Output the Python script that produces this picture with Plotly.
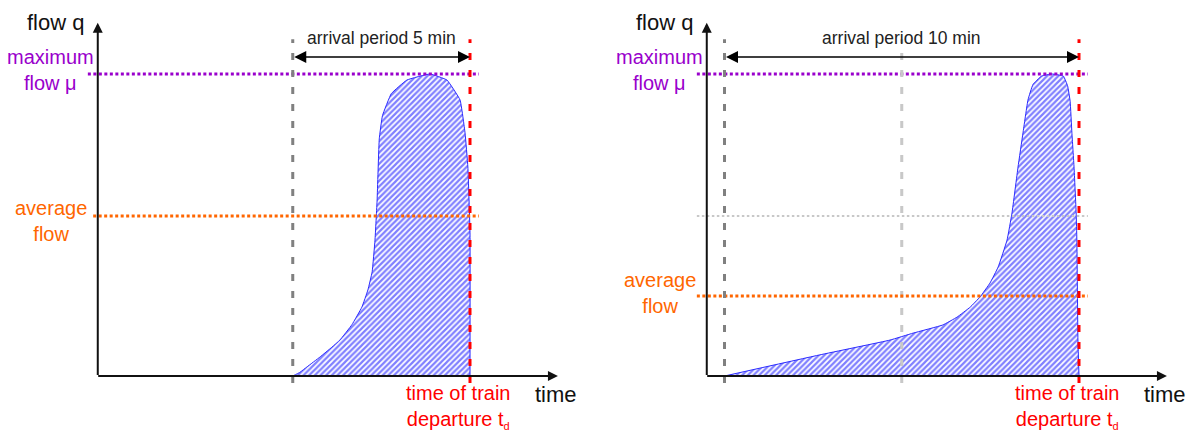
import plotly.graph_objects as go

# arrival profiles, time in minutes relative to departure, flow relative to max flow mu
left_t = [-5.0, -4.80, -4.60, -4.23, -3.90, -3.67, -3.33, -3.05, -2.88, -2.76, -2.68, -2.62, -2.56,
          -2.47, -2.22, -1.78, -1.13, -0.65, -0.28, -0.14, -0.06, 0.0, 0.0]
left_q = [0.0, 0.012, 0.030, 0.063, 0.095, 0.119, 0.170, 0.228, 0.285, 0.345, 0.450, 0.583, 0.785,
          0.862, 0.935, 0.980, 1.0, 0.980, 0.914, 0.805, 0.692, 0.474, 0.0]

right_t = [-10.0, -7.31, -5.33, -4.68, -3.84, -3.44, -3.07, -2.79, -2.51, -2.28, -2.03, -1.89,
           -1.72, -1.58, -1.44, -1.30, -1.06, -0.76, -0.44, -0.32, -0.25, -0.20, -0.14, -0.08,
           -0.06, -0.03, 0.0]
right_q = [0.0, 0.070, 0.119, 0.142, 0.169, 0.195, 0.228, 0.262, 0.308, 0.361, 0.450, 0.540,
           0.692, 0.805, 0.914, 0.965, 0.993, 1.0, 0.993, 0.960, 0.910, 0.805, 0.692, 0.540,
           0.450, 0.119, 0.0]

max_flow = 1.0
avg_flow = [0.53, 0.265]
arrival_period = [5, 10]
panel_titles = ["arrival period 5 min", "arrival period 10 min"]

PURPLE = "#9900CC"
ORANGE = "#FF6600"
RED = "#FF0000"
GRAY = "#808080"
LIGHT = "#C8C8C8"
FONT = "Liberation Sans, Arial, sans-serif"

# pixel layout -> axis ranges (35.45 px per minute, 302 px per unit flow)
PX_MIN = 35.45
PX_Q = 302.0
BASE_Y = 376
W, H = 1194, 432
red_px = [470, 1079]
AX_T = -10.5      # position of the vertical axis
AX_TIP_T = 2.48   # tip of the time axis
AX_TIP_Q = 1.17   # tip of the flow axis

fig = go.Figure()

layout_axes = {}
for i in range(2):
    x0 = i * W / 2
    x1 = (i + 1) * W / 2
    layout_axes["xaxis" if i == 0 else "xaxis2"] = dict(
        domain=[i * 0.5, (i + 1) * 0.5], range=[(x0 - red_px[i]) / PX_MIN, (x1 - red_px[i]) / PX_MIN],
        visible=False, fixedrange=True)
    layout_axes["yaxis" if i == 0 else "yaxis2"] = dict(
        domain=[0, 1], range=[(BASE_Y - H) / PX_Q, BASE_Y / PX_Q], visible=False, fixedrange=True,
        anchor="x" if i == 0 else "x2")

curves = [(left_t, left_q), (right_t, right_q)]
for i, (tt, qq) in enumerate(curves):
    xr = "x" if i == 0 else "x2"
    yr = "y" if i == 0 else "y2"
    period = arrival_period[i]

    # hatched arrival curve
    fig.add_trace(go.Scatter(
        x=tt, y=qq, xaxis=xr, yaxis=yr, mode="lines", fill="toself",
        line=dict(color="#2a2aff", width=1, shape="spline", smoothing=0.3),
        fillcolor="rgba(0,0,0,0)",
        fillpattern=dict(shape="/", fgcolor="#0000ff", bgcolor="white", size=4, solidity=0.55),
        showlegend=False, hoverinfo="skip"))

    def hline(y, color, width, dash, t0=-10.78, t1=0.25):
        fig.add_shape(type="line", xref=xr, yref=yr, x0=t0, x1=t1, y0=y, y1=y,
                      line=dict(color=color, width=width, dash=dash))

    def vline(t, color):
        fig.add_shape(type="line", xref=xr, yref=yr, x0=t, x1=t, y0=-0.023, y1=1.115,
                      line=dict(color=color, width=3, dash="7px,10px"))

    # reference lines
    hline(max_flow, PURPLE, 3, "3px,2.5px")
    if i == 1:
        hline(avg_flow[0], LIGHT, 2, "2.5px,2.5px")
        vline(-period / 2, LIGHT)
    hline(avg_flow[i], ORANGE, 3, "3px,2.5px", t0=-10.63 if i == 0 else -10.78)
    vline(-period, GRAY)
    vline(0, RED)

    # axes with arrows
    fig.add_annotation(xref=xr, yref=yr, axref=xr, ayref=yr, x=AX_T, y=AX_TIP_Q, ax=AX_T, ay=-0.002,
                       text="", showarrow=True, arrowhead=2, arrowsize=1, arrowwidth=2, arrowcolor="#111")
    fig.add_annotation(xref=xr, yref=yr, axref=xr, ayref=yr, x=AX_TIP_T, y=0, ax=AX_T - 0.03, ay=0,
                       text="", showarrow=True, arrowhead=2, arrowsize=1, arrowwidth=2, arrowcolor="#111")

    # arrival period double arrow
    fig.add_annotation(xref=xr, yref=yr, axref=xr, ayref=yr, x=0, y=1.056, ax=-period, ay=1.056,
                       text="", showarrow=True, arrowhead=2, startarrowhead=2, arrowside="end+start",
                       arrowsize=1.6, startarrowsize=1.6, arrowwidth=1.5, arrowcolor="#000")
    fig.add_annotation(xref=xr, yref=yr, x=-period / 2, y=1.119, text=panel_titles[i], showarrow=False,
                       font=dict(size=17.5, color="#222", family=FONT))

    # labels
    fig.add_annotation(xref=xr, yref=yr, x=AX_T, y=AX_TIP_Q, xshift=-12, xanchor="right",
                       text="flow q", showarrow=False, font=dict(size=22, color="#111", family=FONT))
    fig.add_annotation(xref=xr, yref=yr, x=2.43, y=-0.06, text="time", showarrow=False,
                       font=dict(size=22, color="#111", family=FONT))
    fig.add_annotation(xref=xr, yref=yr, x=-11.82, y=1.012, text="maximum<br>flow \u03bc",
                       showarrow=False, font=dict(size=20, color=PURPLE, family=FONT))
    fig.add_annotation(xref=xr, yref=yr, x=-11.82, y=0.513 if i == 0 else 0.276, text="average<br>flow",
                       showarrow=False, font=dict(size=20, color=ORANGE, family=FONT))
    fig.add_annotation(xref=xr, yref=yr, x=-0.33, y=-0.103,
                       text="time of train<br>departure t<sub><span style='font-size:11px'>d</span></sub>",
                       showarrow=False, font=dict(size=20, color=RED, family=FONT))

fig.update_layout(
    width=W, height=H,
    margin=dict(l=0, r=0, t=0, b=0),
    paper_bgcolor="white", plot_bgcolor="white",
    showlegend=False,
    **layout_axes
)

# the page body has a default 8px margin; drop it so the chart sits at the window corner
fig.write_html("out.html", config={"displayModeBar": False},
               post_script="document.body.style.margin='0';document.body.style.overflow='hidden';")
